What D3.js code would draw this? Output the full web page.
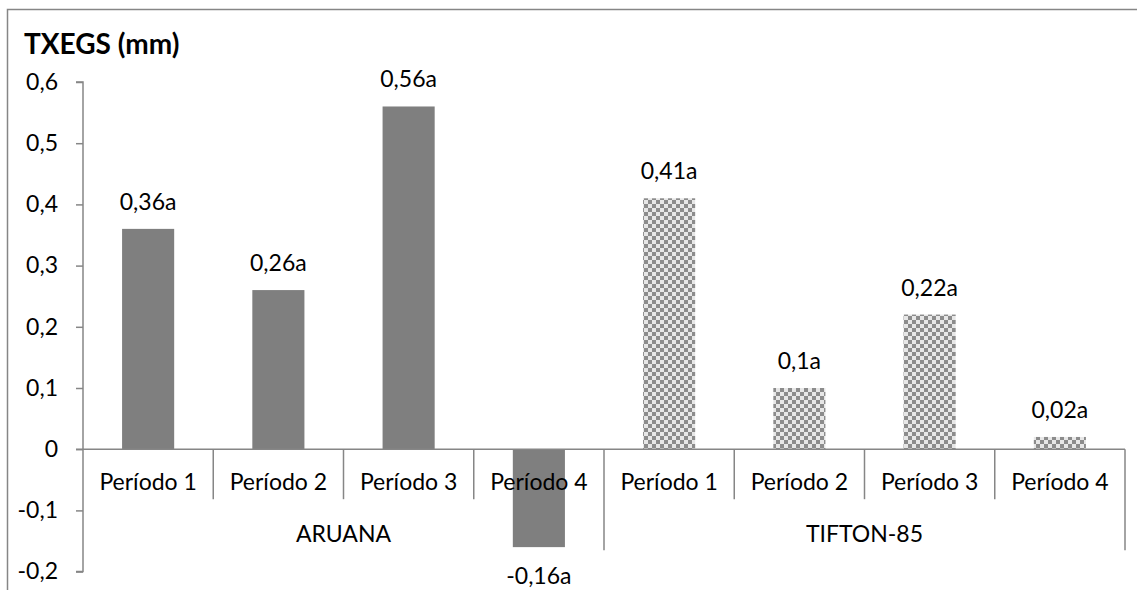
<!DOCTYPE html>
<html>
<head>
<meta charset="utf-8">
<script src="https://cdn.jsdelivr.net/npm/d3@7"></script>
<style>
  html, body { margin: 0; padding: 0; background: #fff; }
  svg { display: block; }
  text { font-family: Lato, "Open Sans", sans-serif; fill: #000; }
</style>
</head>
<body>
<svg id="chart" width="1137" height="590"></svg>
<script>
// Periods shown under each grass cultivar
const periods = ["Período 1", "Período 2", "Período 3", "Período 4"];
const groups = ["ARUANA", "TIFTON-85"];
// TXEGS (mm) per period
const aruanaValues = [0.36, 0.26, 0.56, -0.16];
const tiftonValues = [0.41, 0.10, 0.22, 0.02];
const significance = ["a", "a", "a", "a", "a", "a", "a", "a"];
const yTicks = [-0.2, -0.1, 0, 0.1, 0.2, 0.3, 0.4, 0.5, 0.6];

const rows = [];
groups.forEach((g, gi) => {
  const vals = gi === 0 ? aruanaValues : tiftonValues;
  periods.forEach((p, pi) => {
    rows.push({ key: g + "|" + p, group: g, gi, period: p, value: vals[pi], letter: significance[gi * 4 + pi] });
  });
});

const svg = d3.select("#chart");
const axisColor = "#868686";
const fontSize = 23;
const comma = v => String(+v.toFixed(2)).replace(".", ",");

// Outer chart frame
svg.append("rect")
  .attr("x", 7.5).attr("y", 9.5)
  .attr("width", 1200).attr("height", 700)
  .attr("fill", "none").attr("stroke", axisColor).attr("stroke-width", 1.5);

// Checkered fill for the second cultivar
const defs = svg.append("defs");
const pat = defs.append("pattern")
  .attr("id", "checker").attr("patternUnits", "userSpaceOnUse")
  .attr("width", 8).attr("height", 8);
pat.append("rect").attr("width", 8).attr("height", 8).attr("fill", "#ffffff");
pat.append("rect").attr("x", 0).attr("y", 0).attr("width", 4).attr("height", 4).attr("fill", "#858585");
pat.append("rect").attr("x", 4).attr("y", 4).attr("width", 4).attr("height", 4).attr("fill", "#858585");
pat.append("rect").attr("x", 0).attr("y", 0).attr("width", 8).attr("height", 8).attr("fill", "#a0a0a0").attr("opacity", 0.25);

const x = d3.scaleBand()
  .domain(rows.map(d => d.key))
  .range([83, 1125])
  .paddingInner(0.6)
  .paddingOuter(0.3);

const y = d3.scaleLinear().domain([-0.2, 0.6]).range([571.6, 82]);

const step = x.step();
const left = x.range()[0];
const right = x.range()[1];
const y0 = y(0);

// Y axis
const yAxis = svg.append("g")
  .attr("transform", `translate(${left},0)`)
  .call(d3.axisLeft(y).tickValues(yTicks).tickSize(7).tickPadding(18).tickFormat(comma));
yAxis.select(".domain").attr("stroke", axisColor).attr("stroke-width", 1.5)
  .attr("d", `M-7,${y(0.6)}H0V${y(-0.2)}H-7`);
yAxis.selectAll(".tick line").attr("stroke", axisColor).attr("stroke-width", 1.5);
yAxis.selectAll(".tick text").attr("font-size", fontSize).attr("fill", "#000")
  .attr("font-family", "Lato, sans-serif");

// Bars
svg.append("g").selectAll("rect")
  .data(rows)
  .join("rect")
  .attr("x", d => x(d.key))
  .attr("width", x.bandwidth())
  .attr("y", d => Math.min(y(d.value), y0))
  .attr("height", d => Math.abs(y(d.value) - y0))
  .attr("fill", d => d.gi === 0 ? "#7f7f7f" : "url(#checker)");

// Category axis line
svg.append("line")
  .attr("x1", left - 7).attr("x2", right)
  .attr("y1", y0).attr("y2", y0)
  .attr("stroke", axisColor).attr("stroke-width", 1.5);

// Separators between periods and between cultivars
const boundaries = d3.range(1, rows.length + 1);
svg.append("g").selectAll("line")
  .data(boundaries)
  .join("line")
  .attr("x1", k => left + k * step).attr("x2", k => left + k * step)
  .attr("y1", y0)
  .attr("y2", k => (k % periods.length === 0) ? y0 + 101 : y0 + 50)
  .attr("stroke", axisColor).attr("stroke-width", 1.5);

// Period labels
svg.append("g").selectAll("text")
  .data(rows)
  .join("text")
  .attr("x", d => x(d.key) + x.bandwidth() / 2)
  .attr("y", y0 + 41)
  .attr("text-anchor", "middle")
  .attr("font-size", fontSize)
  .text(d => d.period);

// Cultivar labels
svg.append("g").selectAll("text")
  .data(groups)
  .join("text")
  .attr("x", (g, i) => left + (i * periods.length + periods.length / 2) * step)
  .attr("y", y0 + 93)
  .attr("text-anchor", "middle")
  .attr("font-size", fontSize)
  .text(g => g);

// Value labels
svg.append("g").selectAll("text")
  .data(rows)
  .join("text")
  .attr("x", d => x(d.key) + x.bandwidth() / 2)
  .attr("y", d => d.value >= 0 ? y(d.value) - 19 : y(d.value) + 37)
  .attr("text-anchor", "middle")
  .attr("font-size", fontSize)
  .text(d => comma(d.value) + d.letter);

// Axis title
svg.append("text")
  .attr("x", 24).attr("y", 54)
  .attr("font-size", 28).attr("font-weight", "bold")
  .text("TXEGS (mm)");
</script>
</body>
</html>
